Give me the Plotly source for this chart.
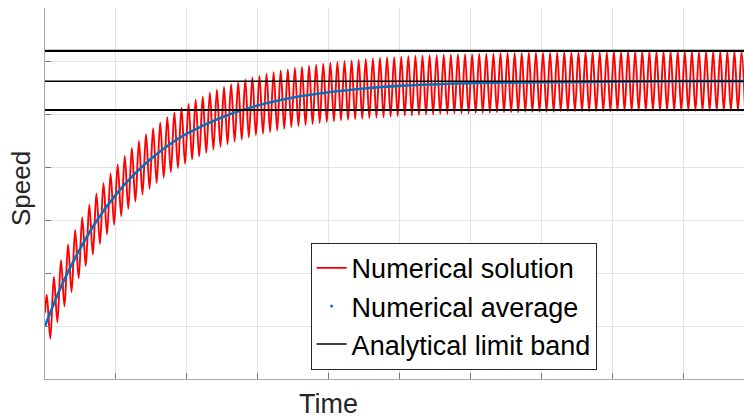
import plotly.graph_objects as go

# ---------------- data ----------------
time_span = [0.0, 9.86]
red_start_time = 0.0
red_start_value = 1.25
first_peak_time = 0.025
cycle_period = 0.1

red_peaks = [1.59, 1.93, 2.24, 2.54, 2.81, 3.05, 3.29, 3.50, 3.70, 3.88,
             4.05, 4.21, 4.36, 4.49, 4.62, 4.73, 4.84, 4.94, 5.03, 5.12,
             5.19, 5.27, 5.33, 5.40, 5.46, 5.51, 5.56, 5.60, 5.65, 5.69,
             5.72, 5.76, 5.79, 5.82, 5.84, 5.87, 5.89, 5.91, 5.93, 5.95,
             5.97, 5.98, 6.00, 6.01, 6.02, 6.04, 6.05, 6.06, 6.07, 6.07,
             6.08, 6.09, 6.10, 6.10, 6.11, 6.11, 6.12, 6.12, 6.13, 6.13,
             6.13, 6.14, 6.14, 6.14, 6.15, 6.15, 6.15, 6.15, 6.16, 6.16,
             6.16, 6.16, 6.16, 6.17, 6.17, 6.17, 6.17, 6.17, 6.17, 6.17,
             6.18, 6.18, 6.18, 6.18, 6.18, 6.18, 6.18, 6.18, 6.18, 6.18,
             6.18, 6.18, 6.18, 6.18, 6.18, 6.18, 6.18, 6.18, 6.18]

red_troughs = [0.76, 1.07, 1.37, 1.64, 1.90, 2.13, 2.35, 2.55, 2.73, 2.91,
               3.07, 3.21, 3.35, 3.48, 3.59, 3.70, 3.80, 3.90, 3.98, 4.06,
               4.14, 4.20, 4.27, 4.33, 4.38, 4.43, 4.48, 4.52, 4.56, 4.60,
               4.63, 4.66, 4.69, 4.72, 4.75, 4.77, 4.79, 4.81, 4.83, 4.85,
               4.86, 4.88, 4.89, 4.90, 4.91, 4.92, 4.93, 4.94, 4.95, 4.96,
               4.97, 4.97, 4.98, 4.99, 4.99, 5.00, 5.00, 5.01, 5.01, 5.01,
               5.02, 5.02, 5.02, 5.03, 5.03, 5.03, 5.03, 5.04, 5.04, 5.04,
               5.04, 5.04, 5.05, 5.05, 5.05, 5.05, 5.05, 5.05, 5.05, 5.05,
               5.06, 5.06, 5.06, 5.06, 5.06, 5.06, 5.06, 5.06, 5.06, 5.06,
               5.06, 5.06, 5.06, 5.06, 5.06, 5.06, 5.06, 5.06, 5.06]

avg_times = [0, 0.25, 0.5, 0.75, 1.0, 1.25, 1.5, 1.75, 2.0, 2.5, 3.0, 3.5,
             4.0, 4.5, 5.0, 6.0, 7.0, 8.0, 9.0, 9.86]
avg_values = [1.00, 1.81, 2.47, 3.03, 3.48, 3.85, 4.16, 4.42, 4.63, 4.94, 5.16, 5.31,
              5.41, 5.48, 5.53, 5.58, 5.60, 5.61, 5.62, 5.62]

band_levels = [6.19, 5.62, 5.075]
band_widths = [2.2, 1.5, 2.2]

x_ticks = [0, 1, 2, 3, 4, 5, 6, 7, 8, 9]
y_ticks = [0, 1, 2, 3, 4, 5, 6, 7]
y_range = [0, 7]

# ---------------- build red series ----------------
red_x = [red_start_time]
red_y = [red_start_value]
for k in range(len(red_peaks)):
    t_peak = first_peak_time + k * cycle_period
    red_x += [t_peak, t_peak + cycle_period / 2]
    red_y += [red_peaks[k], red_troughs[k]]

FONT = "Liberation Sans, Arial, Helvetica, sans-serif"
fig = go.Figure()

fig.add_trace(go.Scatter(x=red_x, y=red_y, mode="lines", name="Numerical solution",
                         line=dict(color="#ff0000", width=1.9, shape="spline", smoothing=1)))
fig.add_trace(go.Scatter(x=avg_times, y=avg_values, mode="lines", showlegend=False,
                         line=dict(color="#0072BD", width=2.6, shape="spline", smoothing=1)))
fig.add_trace(go.Scatter(x=[None], y=[None], mode="markers", name="Numerical average",
                         marker=dict(color="#0072BD", size=3)))
for i, lvl in enumerate(band_levels):
    fig.add_trace(go.Scatter(x=time_span, y=[lvl, lvl], mode="lines",
                             name="Analytical limit band", legendgroup="band",
                             showlegend=(i == 1),
                             line=dict(color="#000000", width=band_widths[i])))

axis_common = dict(showline=True, linecolor="#a8a8a8", linewidth=1.3,
                   ticks="inside", ticklen=6, tickcolor="#7a7a7a", tickwidth=1,
                   showgrid=True, gridcolor="#e4e4e4", gridwidth=1,
                   showticklabels=False, zeroline=False, mirror=False)

fig.update_xaxes(range=time_span, tickvals=x_ticks, **axis_common)
fig.update_yaxes(range=y_range, tickvals=y_ticks, **axis_common)

fig.update_layout(
    width=744, height=418,
    margin=dict(l=45, r=0, t=8, b=39),
    plot_bgcolor="white", paper_bgcolor="white",
    font=dict(family=FONT, color="#262626"),
    legend=dict(x=0.380, y=0.367, xanchor="left", yanchor="top",
                bgcolor="white", bordercolor="#262626", borderwidth=1,
                font=dict(size=27, color="#000000", family=FONT),
                tracegroupgap=0, itemwidth=30),
    annotations=[
        dict(text="Speed", xref="paper", yref="paper", x=-0.0343, y=0.512,
             xanchor="center", yanchor="middle", textangle=-90, showarrow=False,
             font=dict(size=26, color="#262626", family=FONT)),
        dict(text="Time", xref="paper", yref="paper", x=0.405, y=-0.068,
             xanchor="center", yanchor="middle", showarrow=False,
             font=dict(size=27, color="#262626", family=FONT)),
    ],
)

# remove the page's default body margin so the figure fills the window exactly
fig.write_html("out.html",
               config={"displayModeBar": False},
               post_script="document.body.style.margin='0';document.body.style.overflow='hidden';")
